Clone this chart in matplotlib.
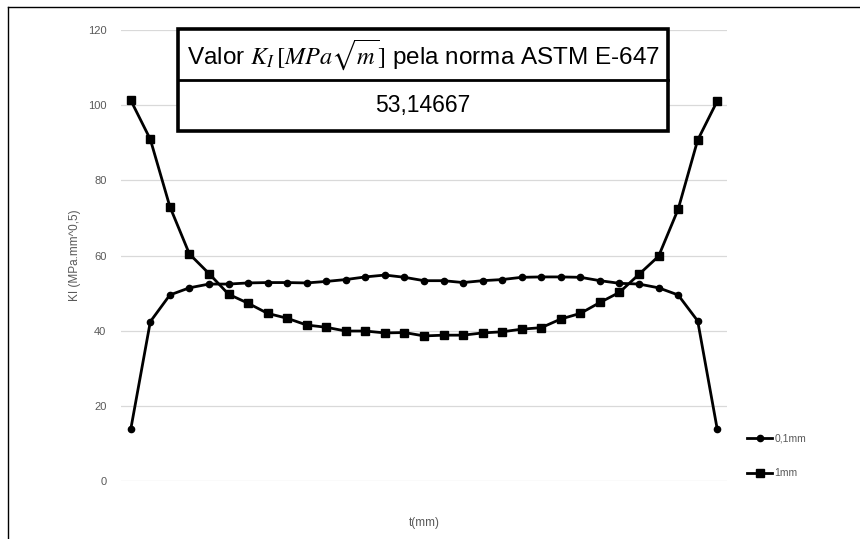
import numpy as np
import matplotlib
matplotlib.use('Agg')
import matplotlib.pyplot as plt
from matplotlib.patches import Rectangle
from matplotlib.lines import Line2D

plt.rcParams['font.family'] = ['Liberation Sans', 'DejaVu Sans']
plt.rcParams['mathtext.fontset'] = 'stix'

# KI along thickness (31 points each)
ki_01mm = [13.8, 42.4, 49.5, 51.4, 52.4, 52.4, 52.7, 52.8, 52.8, 52.7,
           53.1, 53.6, 54.3, 54.8, 54.2, 53.3, 53.3, 52.8, 53.3, 53.6,
           54.2, 54.3, 54.3, 54.2, 53.3, 52.6, 52.4, 51.4, 49.5, 42.6,
           13.8]
ki_1mm = [101.3, 90.9, 73.0, 60.4, 55.2, 49.7, 47.3, 44.6, 43.3, 41.5,
          40.9, 39.9, 39.9, 39.4, 39.5, 38.6, 38.8, 38.8, 39.4, 39.7,
          40.4, 40.8, 43.1, 44.6, 47.5, 50.2, 55.0, 59.8, 72.3, 90.7,
          101.1]
labels = ['0,1mm', '1mm']
yticks = [0, 20, 40, 60, 80, 100, 120]
table_title = r'Valor $K_I\,[MPa\sqrt{m}]$ pela norma ASTM E-647'
table_value = '53,14667'

x = np.arange(len(ki_01mm))
gray = '#595959'

fig = plt.figure(figsize=(8.6, 5.39), dpi=100)
ax = fig.add_axes([121 / 860, 58 / 539, 606 / 860, 451 / 539])

ax.plot(x, ki_01mm, color='black', lw=2.0, marker='o', ms=4.5, label=labels[0])
ax.plot(x, ki_1mm, color='black', lw=2.0, marker='s', ms=6, label=labels[1])

ax.set_xlim(-0.5, len(x) - 0.5)
ax.set_ylim(0, 120)
ax.set_yticks(yticks)
ax.set_xticks([])
ax.grid(axis='y', color='#d9d9d9', lw=0.9)
ax.set_axisbelow(True)
for s in ax.spines.values():
    s.set_visible(False)
ax.tick_params(axis='y', length=0, pad=10.5, labelsize=8, labelcolor=gray)
ax.set_ylabel('KI (MPa.mm^0,5)', fontsize=8.5, color=gray, labelpad=5)
ax.set_xlabel('t(mm)', fontsize=8.5, color=gray, labelpad=26)

fig.legend(loc='center left', bbox_to_anchor=(738 / 860, 1 - 456 / 539),
           frameon=False, fontsize=7.5, labelspacing=2.4, handlelength=2.4,
           handletextpad=0.2, labelcolor=gray)

# table box at the top
x0, x1 = 178 / 860, 668 / 860
y_top, y_mid, y_bot = 1 - 29 / 539, 1 - 80 / 539, 1 - 131 / 539
fig.add_artist(Rectangle((x0, y_bot), x1 - x0, y_top - y_bot, transform=fig.transFigure,
                         facecolor='white', edgecolor='black', lw=2.6, zorder=5))
fig.add_artist(Line2D([x0, x1], [y_mid, y_mid], transform=fig.transFigure,
                      color='black', lw=2.0, zorder=6))
fig.text((x0 + x1) / 2, (y_top + y_mid) / 2, table_title, ha='center', va='center',
         fontsize=17.5, zorder=7)
fig.text((x0 + x1) / 2, (y_mid + y_bot) / 2, table_value, ha='center', va='center',
         fontsize=16.5, zorder=7)

# frame of the cropped screenshot (left and top edges)
fig.add_artist(Line2D([8 / 860, 8 / 860], [0, 1 - 7 / 539], transform=fig.transFigure,
                      color='black', lw=1.0))
fig.add_artist(Line2D([8 / 860, 1], [1 - 7 / 539, 1 - 7 / 539], transform=fig.transFigure,
                      color='black', lw=1.0))

fig.savefig('out.png', dpi=100)
